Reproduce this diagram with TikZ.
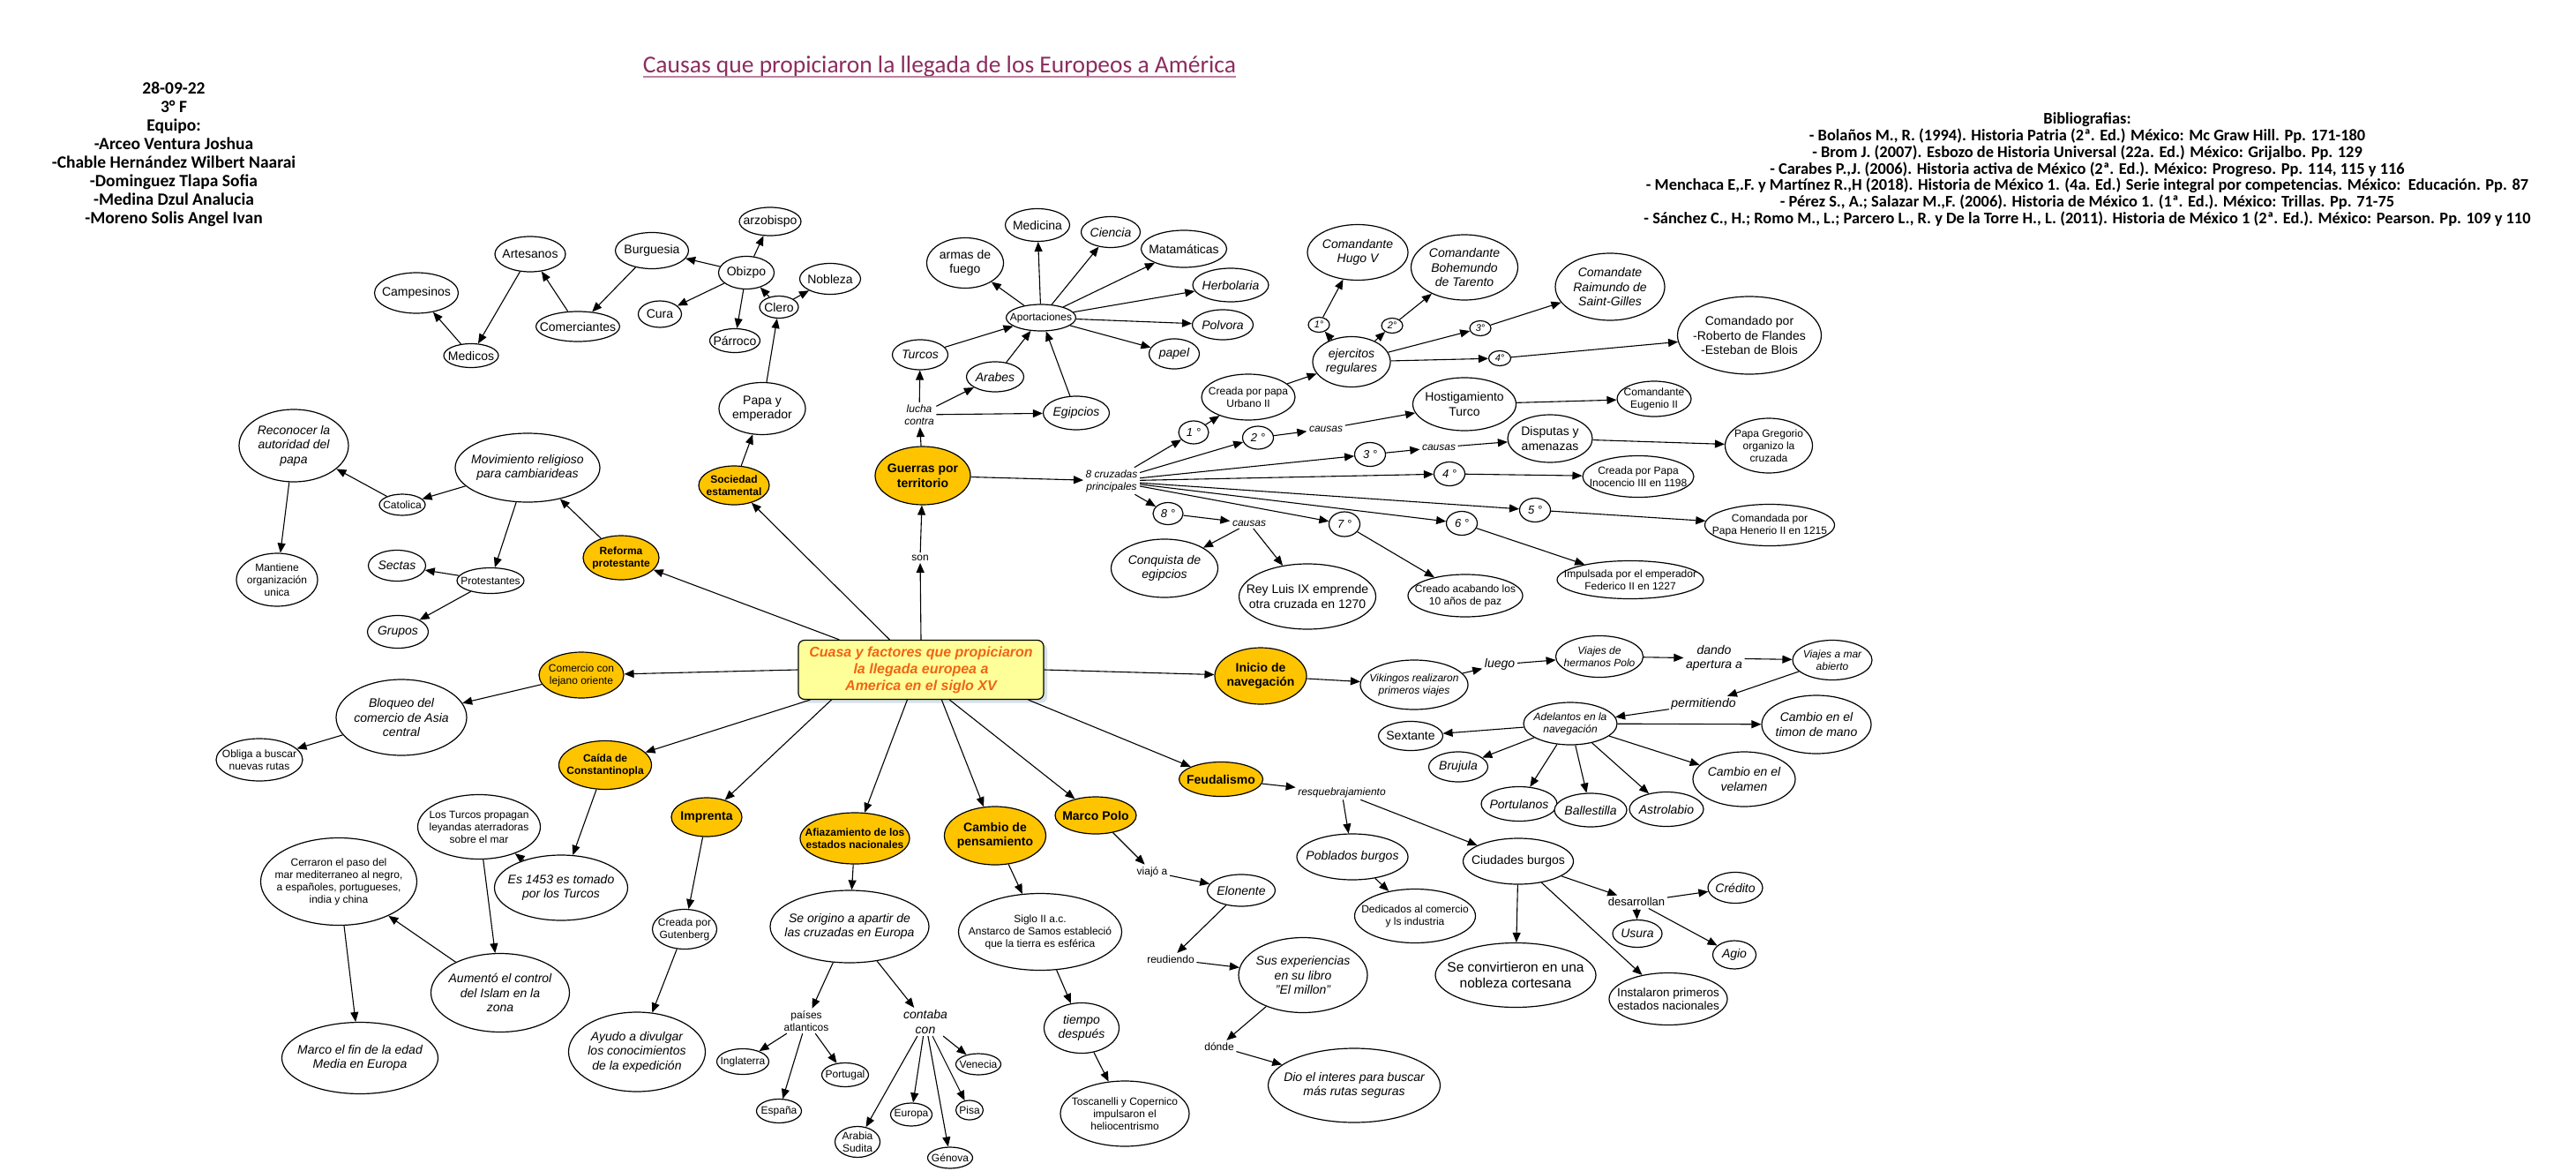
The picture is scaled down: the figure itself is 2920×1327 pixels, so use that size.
\documentclass[tikz,border=0pt]{standalone}
\usepackage{fontspec}
\setmainfont{Liberation Sans}
\newfontfamily\hdr{Carlito}
\usetikzlibrary{shapes.geometric,arrows.meta}
\definecolor{ye}{RGB}{255,196,0}
\definecolor{cy}{RGB}{255,255,153}
\definecolor{co}{RGB}{240,100,20}
\definecolor{tp}{RGB}{140,45,95}
\definecolor{sh}{RGB}{215,225,232}
\newcommand\fs[2]{\fontsize{#1}{#2}\selectfont}
\newcommand\ta{\fs{14}{16.5}}
\newcommand\tb{\fs{12}{14}}
\newcommand\tc{\fs{13}{15}}
\newcommand\td{\fs{11}{13}}
\tikzset{
 ell/.style={draw, ellipse, line width=1.2pt, fill=white, inner sep=0pt},
 yel/.style={fill=ye},
 txt/.style={align=center, inner sep=0pt},
 lab/.style={align=center, inner sep=2.5pt},
 arr/.style={-{Triangle[length=11pt,width=9pt]}, line width=1.1pt},
}
\newcommand\En[8]{\node[ell,minimum width=#4pt,minimum height=#5pt,#6] (#1) at (#2,#3) {};\node[txt,font=#7] (#1t) at (#1.center) {#8};}
\newcommand\Lb[5]{\node[lab,font=#4] (#1) at (#2,#3) {#5};}
\begin{document}
\begin{tikzpicture}[x=1pt,y=-1pt]
\useasboundingbox[fill=white] (0,0) rectangle (2920,1327);
% header
\node[align=center, inner sep=0pt, font=\hdr\bfseries\fs{19.5}{21.1}] (hdrL) at (197,175) {28-09-22\\3° F\\Equipo:\\-Arceo Ventura Joshua\\-Chable Hernández Wilbert Naarai\\-Dominguez Tlapa Sofia\\-Medina Dzul Analucia\\-Moreno Solis Angel Ivan};
\node[inner sep=0pt, text=tp, font=\hdr\fs{27.5}{30}] (title) at (1065,75) {Causas que propiciaron la llegada de los Europeos a América};
\draw[tp!60, line width=2pt] ([yshift=-5pt]title.base west) -- ([yshift=-5pt]title.base east);
\node[align=center, inner sep=0pt, font=\hdr\bfseries\fs{18.4}{18.8}] (bib) at (2366,192) {Bibliografias:\\
- Bolaños M., R. (1994). Historia Patria (2ª. Ed.) México: Mc Graw Hill. Pp. 171-180\\
- Brom J. (2007). Esbozo de Historia Universal (22a. Ed.) México: Grijalbo. Pp. 129\\
- Carabes P.,J. (2006). Historia activa de México (2ª. Ed.). México: Progreso. Pp. 114, 115 y 116\\
- Menchaca E,.F. y Martínez R.,H (2018). Historia de México 1. (4a. Ed.) Serie integral por competencias. México:\ \ Educación. Pp. 87\\
- Pérez S., A.; Salazar M.,F. (2006). Historia de México 1. (1ª. Ed.). México: Trillas. Pp. 71-75\\
- Sánchez C., H.; Romo M., L.; Parcero L., R. y De la Torre H., L. (2011). Historia de México 1 (2ª. Ed.). México: Pearson. Pp. 109 y 110};
% central
\node[draw=none, rounded corners=7pt, fill=sh, minimum width=278pt, minimum height=67pt, inner sep=0pt] (Cs) at (1048,763) {};
\node[draw, line width=1.2pt, rounded corners=7pt, fill=cy, minimum width=278pt, minimum height=67pt, inner sep=0pt, align=center, text=co, font=\fs{16}{19}\bfseries\itshape] (C) at (1044,759) {Cuasa y factores que propiciaron\\la llegada europea a\\America en el siglo XV};
% top-left
\En{camp}{472}{332}{95}{46}{}{\ta}{Campesinos}
\En{arte}{601}{288}{80}{40}{}{\ta}{Artesanos}
\En{medi}{534}{403}{62}{27}{}{\ta}{Medicos}
\En{come}{655}{370}{95}{34}{}{\ta}{Comerciantes}
\En{burg}{739}{284}{83}{41}{}{\ta}{Burguesia}
\En{obiz}{846}{309}{63}{37}{}{\ta}{Obizpo}
\En{arzo}{873}{251}{70}{32}{}{\ta}{arzobispo}
\En{cura}{748}{356}{49}{30}{}{\ta}{Cura}
\En{parr}{833}{386}{57}{27}{}{\ta}{Párroco}
\En{cler}{883}{348}{44}{25}{}{\ta}{Clero}
\En{nobl}{941}{316}{69}{35}{}{\ta}{Nobleza}
\En{papa}{864}{463}{98}{59}{}{\ta}{Papa y\\emperador}
\En{soci}{832}{550}{80}{44}{yel}{\tb\bfseries}{Sociedad\\estamental}
% left
\En{reco}{333}{505}{124}{82}{}{\ta\itshape}{Reconocer la\\autoridad del\\papa}
\En{movi}{598}{530}{164}{78}{}{\ta\itshape}{Movimiento religioso\\para cambiarideas}
\En{cato}{456}{572}{52}{24}{}{\tb}{Catolica}
\En{mant}{314}{657}{92}{60}{}{\tb}{Mantiene\\organización\\unica}
\En{sect}{450}{641}{65}{35}{}{\ta\itshape}{Sectas}
\En{prot}{556}{658}{76}{29}{}{\tb}{Protestantes}
\En{grup}{451}{716}{69}{37}{}{\ta\itshape}{Grupos}
\En{refo}{704}{632}{86}{50}{yel}{\tb\bfseries}{Reforma\\protestante}
\En{comr}{659}{765}{96}{52}{yel}{\tb}{Comercio con\\lejano oriente}
\En{bloq}{455}{813}{148}{86}{}{\ta\itshape}{Bloqueo del\\comercio de Asia\\central}
\En{obli}{294}{861}{98}{48}{}{\tb}{Obliga a buscar\\nuevas rutas}
% Caida
\En{caid}{686}{867}{105}{55}{yel}{\tb\bfseries}{Caída de\\Constantinopla}
\En{turc2}{543}{937}{139}{73}{}{\tb}{Los Turcos propagan\\leyandas aterradoras\\sobre el mar}
\En{cerr}{384}{999}{177}{99}{}{\tb}{Cerraron el paso del\\mar mediterraneo al negro,\\a españoles, portugueses,\\india y china}
\En{e1453}{636}{1006}{151}{74}{}{\ta\itshape}{Es 1453 es tomado\\por los Turcos}
\En{aume}{567}{1125}{157}{89}{}{\ta\itshape}{Aumentó el control\\del Islam en la\\zona}
\En{marc}{408}{1199}{177}{81}{}{\ta\itshape}{Marco el fin de la edad\\Media en Europa}
% Imprenta
\En{impr}{801}{926}{80}{44}{yel}{\ta\bfseries}{Imprenta}
\En{guten}{776}{1053}{73}{45}{}{\tb}{Creada por\\Gutenberg}
\En{ayud}{722}{1192}{155}{90}{}{\ta\itshape}{Ayudo a divulgar\\los conocimientos\\de la expedición}
% Afiazamiento
\En{afia}{969}{950}{124}{58}{yel}{\tb\bfseries}{Afiazamiento de los\\estados nacionales}
\En{orig}{963}{1050}{180}{82}{}{\ta\itshape}{Se origino a apartir de\\las cruzadas en Europa}
\Lb{pais}{914}{1157}{\tb}{países\\atlanticos}
\Lb{cont}{1049}{1158}{\ta\itshape}{contaba\\con}
\En{ingl}{842}{1203}{59}{29}{}{\tb}{Inglaterra}
\En{port}{958}{1218}{53}{27}{}{\tb}{Portugal}
\En{espa}{883}{1259}{51}{27}{}{\tb}{España}
\En{vene}{1109}{1206}{51}{24}{}{\tb}{Venecia}
\En{euro}{1033}{1263}{47}{26}{}{\tb}{Europa}
\En{pisa}{1099}{1258}{31}{22}{}{\tb}{Pisa}
\En{arab2}{972}{1294}{51}{35}{}{\tb}{Arabia\\Sudita}
\En{geno}{1077}{1312}{51}{24}{}{\tb}{Génova}
% Cambio de pensamiento
\En{camb}{1128}{947}{115}{66}{yel}{\ta\bfseries}{Cambio de\\pensamiento}
\En{sigl}{1179}{1056}{185}{87}{}{\tb}{Siglo II a.c.\\Anstarco de Samos estableció\\que la tierra es esférica}
\En{tiem}{1226}{1165}{85}{57}{}{\ta\itshape}{tiempo\\después}
\En{tosc}{1275}{1262}{146}{74}{}{\tb}{Toscanelli y Copernico\\impulsaron el\\heliocentrismo}
% Marco Polo
\En{mpol}{1242}{924}{92}{42}{yel}{\ta\bfseries}{Marco Polo}
\Lb{viaj}{1306}{988}{\tb}{viajó a}
\En{elon}{1407}{1009}{77}{36}{}{\ta\itshape}{Elonente}
\Lb{reud}{1327}{1087}{\tb}{reudiendo}
\En{susx}{1477}{1105}{146}{85}{}{\ta\itshape}{Sus experiencias\\en su libro\\"El millon"}
\Lb{dond}{1382}{1186}{\tb}{dónde}
\En{dioi}{1535}{1230}{195}{84}{}{\ta\itshape}{Dio el interes para buscar\\más rutas seguras}
% Feudalismo
\En{feud}{1384}{883}{95}{39}{yel}{\ta\bfseries}{Feudalismo}
\Lb{resq}{1521}{898}{\tb\itshape}{resquebrajamiento}
\En{pobl}{1533}{971}{126}{52}{}{\ta\itshape}{Poblados burgos}
\En{dedi}{1604}{1038}{137}{61}{}{\tb}{Dedicados al comercio\\y ls industria}
\En{ciud}{1721}{976}{125}{52}{}{\ta}{Ciudades burgos}
\En{conv}{1718}{1105}{182}{73}{}{\fs{15.5}{18}}{Se convirtieron en una\\nobleza cortesana}
\En{inst}{1891}{1132}{134}{59}{}{\fs{13.5}{15.5}}{Instalaron primeros\\estados nacionales}
\Lb{desa}{1855}{1022}{\tc}{desarrollan}
\En{cred}{1967}{1006}{62}{35}{}{\ta\itshape}{Crédito}
\En{usur}{1856}{1058}{56}{31}{}{\ta\itshape}{Usura}
\En{agio}{1966}{1082}{49}{32}{}{\ta\itshape}{Agio}
% Inicio de navegacion
\En{inic}{1429}{766}{104}{64}{yel}{\ta\bfseries}{Inicio de\\navegación}
\En{viki}{1603}{776}{122}{56}{}{\tb\itshape}{Vikingos realizaron\\primeros viajes}
\Lb{lueg}{1700}{753}{\ta\itshape}{luego}
\En{vpol}{1813}{744}{99}{47}{}{\tb\itshape}{Viajes de\\hermanos Polo}
\Lb{dand}{1943}{746}{\ta\itshape}{dando\\apertura a}
\En{vmar}{2077}{748}{90}{45}{}{\tb\itshape}{Viajes a mar\\abierto}
\Lb{perm}{1931}{798}{\ta\itshape}{permitiendo}
\En{adel}{1780}{820}{106}{48}{}{\tb\itshape}{Adelantos en la\\navegación}
\En{sext}{1599}{834}{73}{33}{}{\ta}{Sextante}
\En{bruj}{1653}{869}{67}{34}{}{\ta\itshape}{Brujula}
\En{portu}{1722}{911}{86}{39}{}{\ta\itshape}{Portulanos}
\En{ball}{1803}{918}{82}{38}{}{\ta\itshape}{Ballestilla}
\En{astr}{1889}{917}{84}{39}{}{\ta\itshape}{Astrolabio}
\En{vela}{1977}{883}{116}{62}{}{\ta\itshape}{Cambio en el\\velamen}
\En{timo}{2059}{821}{124}{66}{}{\ta\itshape}{Cambio en el\\timon de mano}
% Guerras
\Lb{son}{1043}{632}{\tb}{son}
\En{guer}{1046}{539}{108}{66}{yel}{\ta\bfseries}{Guerras por\\territorio}
\Lb{luch}{1042}{470}{\tb\itshape}{lucha\\contra}
\En{turc}{1043}{402}{63}{34}{}{\ta\itshape}{Turcos}
\En{arab}{1128}{427}{65}{34}{}{\ta\itshape}{Arabes}
\En{egip}{1220}{468}{75}{38}{}{\ta\itshape}{Egipcios}
\En{apor}{1180}{360}{79}{30}{}{\tb}{Aportaciones}
\En{arma}{1094}{298}{87}{57}{}{\ta}{armas de\\fuego}
\En{medc}{1176}{255}{73}{37}{}{\ta}{Medicina}
\En{cien}{1259}{263}{67}{35}{}{\ta\itshape}{Ciencia}
\En{mate}{1342}{282}{97}{42}{}{\ta}{Matamáticas}
\En{herb}{1395}{323}{86}{38}{}{\ta\itshape}{Herbolaria}
\En{polv}{1386}{368}{69}{34}{}{\ta\itshape}{Polvora}
\En{pape}{1331}{401}{57}{34}{}{\ta\itshape}{papel}
\Lb{cruz}{1260}{545}{\tb\itshape}{8 cruzadas\\principales}
% cruzadas
\En{n1}{1353}{490}{34}{26}{}{\tc\itshape}{1 °}
\En{n2}{1426}{496}{35}{26}{}{\tc\itshape}{2 °}
\En{n3}{1553}{515}{35}{27}{}{\tc\itshape}{3 °}
\En{n4}{1643}{537}{35}{27}{}{\tc\itshape}{4 °}
\En{n5}{1740}{578}{35}{27}{}{\tc\itshape}{5 °}
\En{n6}{1657}{593}{35}{27}{}{\tc\itshape}{6 °}
\En{n7}{1524}{594}{35}{28}{}{\tc\itshape}{7 °}
\En{n8}{1324}{582}{34}{25}{}{\tc\itshape}{8 °}
\En{urba}{1415}{450}{106}{52}{}{\tb}{Creada por papa\\Urbano II}
\En{ejer}{1532}{410}{88}{57}{}{\ta\itshape}{ejercitos\\regulares}
\En{s1}{1495}{368}{24}{17}{}{\td\itshape}{1°}
\En{s2}{1578}{369}{24}{17}{}{\td\itshape}{2°}
\En{s3}{1678}{372}{24}{17}{}{\td\itshape}{3°}
\En{s4}{1700}{406}{25}{17}{}{\td\itshape}{4°}
\En{hugo}{1539}{286}{114}{63}{}{\ta\itshape}{Comandante\\Hugo V}
\En{bohe}{1660}{303}{121}{74}{}{\ta\itshape}{Comandante\\Bohemundo\\de Tarento}
\En{raim}{1825}{325}{124}{76}{}{\ta\itshape}{Comandate\\Raimundo de\\Saint-Gilles}
\En{robe}{1983}{380}{163}{88}{}{\ta}{Comandado por\\-Roberto de Flandes\\-Esteban de Blois}
\Lb{caus1}{1503}{486}{\tb\itshape}{causas}
\En{host}{1660}{458}{117}{60}{}{\ta}{Hostigamiento\\Turco}
\En{euge}{1875}{452}{84}{40}{}{\tb}{Comandante\\Eugenio II}
\Lb{caus2}{1631}{507}{\tb\itshape}{causas}
\En{disp}{1757}{497}{96}{54}{}{\ta}{Disputas y\\amenazas}
\En{greg}{2005}{505}{99}{62}{}{\tb}{Papa Gregorio\\organizo la\\cruzada}
\En{inoc}{1857}{540}{126}{47}{}{\tb}{Creada por Papa\\Inocencio III en 1198}
\En{hene}{2006}{595}{147}{47}{}{\tb}{Comandada por\\Papa Henerio II en 1215}
\En{fede}{1848}{657}{166}{43}{}{\tb}{Impulsada por el emperador\\Federico II en 1227}
\En{acab}{1661}{675}{130}{48}{}{\tb}{Creado acabando los\\10 años de paz}
\Lb{caus3}{1416}{593}{\tb\itshape}{causas}
\En{conq}{1320}{644}{121}{66}{}{\ta\itshape}{Conquista de\\egipcios}
\En{luis}{1482}{676}{155}{74}{}{\ta}{Rey Luis IX emprende\\otra cruzada en 1270}
% connectors from central node
\draw[arr] ([xshift=104pt]C.north west) -- (soci);
\draw[arr] (C.north) -- (son);
\draw[arr] (son) -- (guer);
\draw[arr] ([xshift=47pt]C.north west) -- (refo);
\draw[arr] (C.west) -- (comr);
\draw[arr] ([xshift=14pt]C.south west) -- (caid);
\draw[arr] ([xshift=38pt]C.south west) -- (impr);
\draw[arr] ([xshift=124pt]C.south west) -- (afia);
\draw[arr] ([xshift=163pt]C.south west) -- (camb);
\draw[arr] ([xshift=172pt]C.south west) -- (mpol);
\draw[arr] ([xshift=-18pt]C.south east) -- (feud);
\draw[arr] (C.east) -- (inic);
% sociedad
\draw[arr] (soci) -- (papa);
\draw[arr] (papa) -- (cler);
\draw[arr] (cler) -- (obiz);
\draw[arr] (cler) -- (nobl);
\draw[arr] (obiz) -- (arzo);
\draw[arr] (obiz) -- (burg);
\draw[arr] (obiz) -- (cura);
\draw[arr] (obiz) -- (parr);
\draw[arr] (burg) -- (come);
\draw[arr] (come) -- (arte);
\draw[arr] (arte) -- (medi);
\draw[arr] (medi) -- (camp);
% reforma
\draw[arr] (refo) -- (movi);
\draw[arr] (movi) -- (cato);
\draw[arr] (movi) -- (prot);
\draw[arr] (cato) -- (reco);
\draw[arr] (reco) -- (mant);
\draw[arr] (prot) -- (sect);
\draw[arr] (prot) -- (grup);
% comercio
\draw[arr] (comr) -- (bloq);
\draw[arr] (bloq) -- (obli);
% caida
\draw[arr] (caid) -- (e1453);
\draw[arr] (e1453) -- (turc2);
\draw[arr] (turc2) -- (aume);
\draw[arr] (aume) -- (cerr);
\draw[arr] (cerr) -- (marc);
% imprenta
\draw[arr] (impr) -- (guten);
\draw[arr] (guten) -- (ayud);
% afiazamiento
\draw[arr] (afia) -- (orig);
\draw[arr] (orig) -- (pais);
\draw[arr] (orig) -- (cont);
\draw[arr] (pais) -- (ingl);
\draw[arr] (pais) -- (espa);
\draw[arr] (pais) -- (port);
\draw[arr] (cont) -- (arab2);
\draw[arr] (cont) -- (euro);
\draw[arr] (cont) -- (geno);
\draw[arr] (cont) -- (pisa);
\draw[arr] (cont) -- (vene);
% cambio
\draw[arr] (camb) -- (sigl);
\draw[arr] (sigl) -- (tiem);
\draw[arr] (tiem) -- (tosc);
% marco polo
\draw[arr] (mpol) -- (viaj);
\draw[arr] (viaj) -- (elon);
\draw[arr] (elon) -- (reud);
\draw[arr] (reud) -- (susx);
\draw[arr] (susx) -- (dond);
\draw[arr] (dond) -- (dioi);
% feudalismo
\draw[arr] (feud) -- (resq);
\draw[arr] (resq) -- (pobl);
\draw[arr] (resq) -- (ciud);
\draw[arr] (pobl) -- (dedi);
\draw[arr] (ciud) -- (conv);
\draw[arr] (ciud) -- (inst);
\draw[arr] (ciud) -- (desa);
\draw[arr] (desa) -- (cred);
\draw[arr] (desa) -- (usur);
\draw[arr] (desa) -- (agio);
% navegacion
\draw[arr] (inic) -- (viki);
\draw[arr] (viki) -- (lueg);
\draw[arr] (lueg) -- (vpol);
\draw[arr] (vpol) -- (dand);
\draw[arr] (dand) -- (vmar);
\draw[arr] (vmar) -- (perm);
\draw[arr] (perm) -- (adel);
\draw[arr] (adel) -- (sext);
\draw[arr] (adel) -- (bruj);
\draw[arr] (adel) -- (portu);
\draw[arr] (adel) -- (ball);
\draw[arr] (adel) -- (astr);
\draw[arr] (adel) -- (vela);
\draw[arr] (adel) -- (timo);
% guerras
\draw[arr] (guer) -- (luch);
\draw[arr] (luch) -- (turc);
\draw[arr] (luch) -- (arab);
\draw[arr] (luch) -- (egip);
\draw[arr] (turc) -- (apor);
\draw[arr] (arab) -- (apor);
\draw[arr] (egip) -- (apor);
\draw[arr] (apor) -- (arma);
\draw[arr] (apor) -- (medc);
\draw[arr] (apor) -- (cien);
\draw[arr] (apor) -- (mate);
\draw[arr] (apor) -- (herb);
\draw[arr] (apor) -- (polv);
\draw[arr] (apor) -- (pape);
\draw[arr] (guer) -- (cruz);
\draw[arr] (cruz) -- (n1);
\draw[arr] (cruz) -- (n2);
\draw[arr] (cruz) -- (n3);
\draw[arr] (cruz) -- (n4);
\draw[arr] (cruz) -- (n5);
\draw[arr] (cruz) -- (n6);
\draw[arr] (cruz) -- (n7);
\draw[arr] (cruz) -- (n8);
\draw[arr] (n1) -- (urba);
\draw[arr] (urba) -- (ejer);
\draw[arr] (ejer) -- (s1);
\draw[arr] (s1) -- (hugo);
\draw[arr] (ejer) -- (s2);
\draw[arr] (s2) -- (bohe);
\draw[arr] (ejer) -- (s3);
\draw[arr] (s3) -- (raim);
\draw[arr] (ejer) -- (s4);
\draw[arr] (s4) -- (robe);
\draw[arr] (n2) -- (caus1);
\draw[arr] (caus1) -- (host);
\draw[arr] (host) -- (euge);
\draw[arr] (n3) -- (caus2);
\draw[arr] (caus2) -- (disp);
\draw[arr] (disp) -- (greg);
\draw[arr] (n4) -- (inoc);
\draw[arr] (n5) -- (hene);
\draw[arr] (n6) -- (fede);
\draw[arr] (n7) -- (acab);
\draw[arr] (n8) -- (caus3);
\draw[arr] (caus3) -- (conq);
\draw[arr] (caus3) -- (luis);
\end{tikzpicture}
\end{document}
